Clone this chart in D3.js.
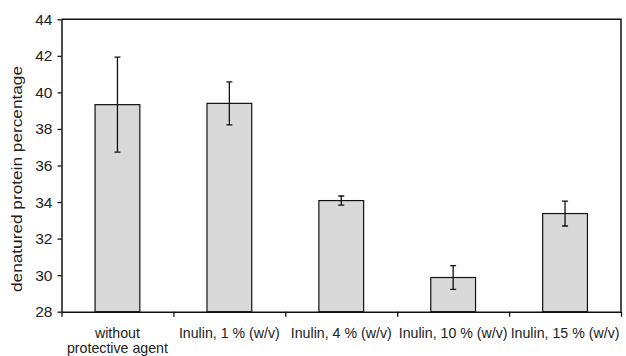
<!DOCTYPE html>
<html>
<head>
<meta charset="utf-8">
<script src="https://cdn.jsdelivr.net/npm/d3@7"></script>
<style>
  html, body { margin: 0; padding: 0; background: #fff; }
  svg { display: block; font-family: "Liberation Sans", Arial, sans-serif; }
</style>
</head>
<body>
<svg id="chart" width="626" height="356"></svg>
<script>
// Treatments and measured denatured protein (%) with error margins
const categories = [
  ["without", "protective agent"],
  ["Inulin, 1 % (w/v)"],
  ["Inulin, 4 % (w/v)"],
  ["Inulin, 10 % (w/v)"],
  ["Inulin, 15 % (w/v)"]
];
const values = [39.33, 39.40, 34.08, 29.87, 33.37];
const errors = [2.60, 1.18, 0.25, 0.65, 0.68];
const yTicks = [28, 30, 32, 34, 36, 38, 40, 42, 44];

const svg = d3.select("#chart");
const margin = { left: 61.5, top: 19.3, right: 5, bottom: 44.3 };
const W = 626, H = 356;
const x0 = margin.left, x1 = W - margin.right;
const y0 = H - margin.bottom, y1 = margin.top;

const x = d3.scaleBand()
  .domain(d3.range(categories.length))
  .range([x0, x1])
  .paddingInner(0.6)
  .paddingOuter(0.3);
const xEdges = d3.scaleLinear().domain([0, categories.length]).range([x0, x1]);
const y = d3.scaleLinear().domain([28, 44]).range([y0, y1]);

// plot frame (top and right sides)
svg.append("path")
  .attr("d", `M${x0},${y1}H${x1}V${y0}`)
  .attr("fill", "none")
  .attr("stroke", "#111")
  .attr("stroke-width", 1.5);

// bars
svg.append("g").selectAll("rect")
  .data(values)
  .join("rect")
  .attr("x", (d, i) => x(i))
  .attr("width", x.bandwidth())
  .attr("y", d => y(d))
  .attr("height", d => y(28) - y(d))
  .attr("fill", "#d9d9d9")
  .attr("stroke", "#111")
  .attr("stroke-width", 1.2);

// error bars
const eb = svg.append("g").attr("stroke", "#111").attr("stroke-width", 1.3).attr("fill", "none");
values.forEach((v, i) => {
  const cx = x(i) + x.bandwidth() / 2;
  const top = y(v + errors[i]), bot = y(v - errors[i]);
  eb.append("path").attr("d",
    `M${cx},${top}V${bot}M${cx - 3},${top}H${cx + 3}M${cx - 3},${bot}H${cx + 3}`);
});

// y axis
const yAxis = svg.append("g")
  .attr("transform", `translate(${x0},0)`)
  .call(d3.axisLeft(y).tickValues(yTicks).tickSize(4).tickSizeOuter(0).tickPadding(5));
yAxis.select(".domain").attr("stroke", "#111").attr("stroke-width", 1.5);
yAxis.selectAll(".tick line").attr("stroke", "#111").attr("stroke-width", 1.3);
yAxis.selectAll(".tick text")
  .attr("font-size", 15.5)
  .attr("fill", "#222")
  .attr("font-family", "Liberation Sans, Arial, sans-serif");

// x axis line with ticks at category boundaries
const xAxis = svg.append("g")
  .attr("transform", `translate(0,${y0})`)
  .call(d3.axisBottom(xEdges).tickValues(d3.range(categories.length + 1)).tickSize(5).tickSizeOuter(0).tickFormat(""));
xAxis.select(".domain").attr("stroke", "#111").attr("stroke-width", 1.5);
xAxis.selectAll(".tick line").attr("stroke", "#111").attr("stroke-width", 1.3);

// category labels
const lbl = svg.append("g")
  .attr("font-size", 14.2)
  .attr("fill", "#222")
  .attr("text-anchor", "middle");
categories.forEach((lines, i) => {
  const cx = x(i) + x.bandwidth() / 2;
  const t = lbl.append("text").attr("x", cx).attr("y", 338);
  lines.forEach((ln, j) => {
    t.append("tspan").attr("x", cx).attr("dy", j === 0 ? 0 : 14.5).text(ln);
  });
});

// y axis title
svg.append("text")
  .attr("transform", `translate(22,179) rotate(-90)`)
  .attr("text-anchor", "middle")
  .attr("font-size", 14)
  .attr("textLength", 226)
  .attr("lengthAdjust", "spacingAndGlyphs")
  .attr("fill", "#222")
  .text("denatured protein percentage");
</script>
</body>
</html>
